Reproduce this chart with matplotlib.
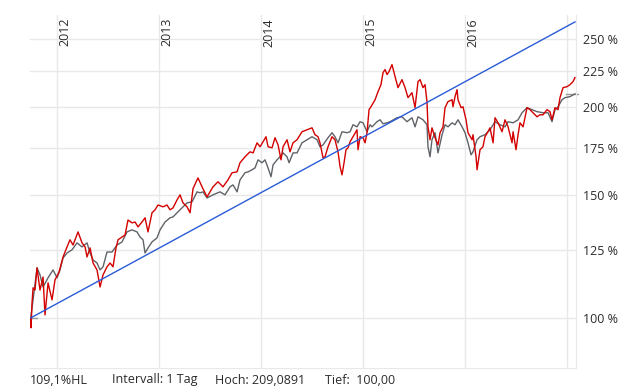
import matplotlib
matplotlib.use("Agg")
import matplotlib.pyplot as plt
import matplotlib.transforms as mtransforms
import numpy as np

# ---------------- data ----------------
red_t = [2011.742, 2011.745, 2011.755, 2011.765, 2011.784, 2011.804, 2011.833, 2011.863, 2011.882, 2011.912,
         2011.951, 2011.980, 2012.020, 2012.059, 2012.098, 2012.127, 2012.157, 2012.206, 2012.245, 2012.275,
         2012.294, 2012.324, 2012.353, 2012.392, 2012.422, 2012.451, 2012.490, 2012.520, 2012.549, 2012.578,
         2012.598, 2012.637, 2012.667, 2012.696, 2012.735, 2012.765, 2012.794, 2012.833, 2012.863, 2012.892,
         2012.931, 2012.961, 2012.990, 2013.039, 2013.078, 2013.108, 2013.137, 2013.176, 2013.206, 2013.235,
         2013.275, 2013.304, 2013.333, 2013.382, 2013.422, 2013.471, 2013.529, 2013.578, 2013.627, 2013.676,
         2013.716, 2013.765, 2013.794, 2013.843, 2013.892, 2013.922, 2013.961, 2013.990, 2014.020, 2014.049,
         2014.069, 2014.108, 2014.137, 2014.167, 2014.196, 2014.216, 2014.255, 2014.284, 2014.314, 2014.353,
         2014.402, 2014.451, 2014.500, 2014.529, 2014.559, 2014.578, 2014.608, 2014.627, 2014.657, 2014.696,
         2014.725, 2014.755, 2014.775, 2014.794, 2014.814, 2014.833, 2014.853, 2014.873, 2014.902, 2014.941,
         2014.951, 2014.971, 2015.000, 2015.020, 2015.039, 2015.059, 2015.078, 2015.118, 2015.147, 2015.176,
         2015.196, 2015.216, 2015.235, 2015.255, 2015.284, 2015.314, 2015.343, 2015.382, 2015.412, 2015.441,
         2015.480, 2015.510, 2015.539, 2015.559, 2015.588, 2015.608, 2015.627, 2015.637, 2015.657, 2015.676,
         2015.706, 2015.735, 2015.755, 2015.784, 2015.804, 2015.833, 2015.873, 2015.882, 2015.902, 2015.922,
         2015.931, 2015.961, 2015.980, 2016.010, 2016.029, 2016.069, 2016.078, 2016.108, 2016.118, 2016.147,
         2016.176, 2016.196, 2016.225, 2016.245, 2016.275, 2016.294, 2016.324, 2016.363, 2016.392, 2016.422,
         2016.461, 2016.471, 2016.500, 2016.520, 2016.539, 2016.569, 2016.608, 2016.637, 2016.667, 2016.706,
         2016.735, 2016.765, 2016.804, 2016.833, 2016.853, 2016.882, 2016.912, 2016.931, 2016.961, 2017.000,
         2017.029, 2017.049, 2017.059, 2017.078]
red_v = [100.0, 96.8, 105.1, 110.4, 109.6, 117.9, 109.6, 114.4, 101.0, 112.2,
         106.1, 113.3, 116.3, 122.2, 126.3, 129.3, 127.1, 132.7, 128.0, 126.3,
         122.2, 125.9, 119.8, 117.1, 110.7, 115.2, 118.3, 119.8, 118.3, 125.9,
         129.3, 130.5, 131.4, 138.0, 136.7, 137.1, 134.9, 137.1, 139.0, 132.7,
         141.3, 142.7, 145.0, 144.1, 145.0, 142.7, 143.6, 147.4, 149.9, 146.0,
         144.1, 141.3, 153.0, 158.5, 153.9, 148.9, 153.9, 156.5, 153.9, 157.5,
         161.2, 161.7, 166.6, 169.9, 172.7, 172.1, 177.9, 175.6, 178.5, 181.5,
         175.6, 175.0, 180.9, 176.7, 168.2, 175.6, 179.7, 172.7, 177.9, 179.7,
         184.5, 185.7, 186.9, 182.7, 181.5, 177.9, 169.3, 169.9, 175.6, 181.5,
         179.7, 172.7, 164.4, 160.1, 166.6, 173.9, 175.0, 178.5, 181.5, 185.7,
         173.9, 181.5, 180.9, 177.9, 183.9, 198.4, 200.3, 205.0, 210.5, 215.4,
         224.1, 226.4, 222.7, 224.9, 230.1, 221.2, 213.3, 219.0, 213.3, 206.4,
         209.8, 199.7, 217.6, 219.0, 213.3, 215.4, 203.7, 187.5, 179.7, 186.9,
         180.9, 176.7, 183.9, 187.5, 199.7, 203.7, 205.0, 200.3, 207.1, 211.9,
         205.0, 199.7, 200.3, 191.9, 183.9, 179.7, 182.7, 169.9, 162.8, 173.9,
         175.6, 181.5, 184.5, 186.9, 177.9, 193.2, 190.0, 184.5, 191.9, 187.5,
         177.9, 184.5, 173.9, 182.7, 190.0, 187.5, 199.7, 198.4, 196.4, 193.8,
         195.1, 195.1, 198.4, 197.1, 191.9, 199.7, 198.4, 206.4, 213.3, 214.0,
         215.4, 216.9, 217.6, 220.5]

grey_t = [2011.742, 2011.765, 2011.804, 2011.833, 2011.863, 2011.912, 2011.961, 2012.000, 2012.029, 2012.059,
          2012.098, 2012.147, 2012.196, 2012.245, 2012.294, 2012.324, 2012.353, 2012.392, 2012.422, 2012.451,
          2012.490, 2012.539, 2012.588, 2012.637, 2012.686, 2012.735, 2012.784, 2012.814, 2012.843, 2012.863,
          2012.892, 2012.931, 2012.980, 2013.010, 2013.059, 2013.108, 2013.137, 2013.176, 2013.225, 2013.275,
          2013.324, 2013.373, 2013.402, 2013.431, 2013.471, 2013.529, 2013.598, 2013.647, 2013.696, 2013.725,
          2013.765, 2013.794, 2013.843, 2013.873, 2013.912, 2013.941, 2013.971, 2014.010, 2014.039, 2014.069,
          2014.098, 2014.118, 2014.157, 2014.186, 2014.216, 2014.255, 2014.275, 2014.314, 2014.353, 2014.402,
          2014.451, 2014.500, 2014.549, 2014.578, 2014.608, 2014.657, 2014.696, 2014.725, 2014.755, 2014.794,
          2014.843, 2014.873, 2014.902, 2014.941, 2014.971, 2015.000, 2015.039, 2015.069, 2015.088, 2015.137,
          2015.167, 2015.196, 2015.235, 2015.265, 2015.333, 2015.382, 2015.431, 2015.480, 2015.510, 2015.539,
          2015.588, 2015.627, 2015.637, 2015.657, 2015.676, 2015.706, 2015.735, 2015.775, 2015.804, 2015.833,
          2015.873, 2015.902, 2015.931, 2015.971, 2016.000, 2016.029, 2016.059, 2016.078, 2016.118, 2016.147,
          2016.196, 2016.245, 2016.294, 2016.343, 2016.392, 2016.422, 2016.471, 2016.520, 2016.559, 2016.608,
          2016.657, 2016.706, 2016.765, 2016.814, 2016.853, 2016.882, 2016.912, 2016.951, 2016.980, 2017.029,
          2017.078]
grey_v = [100.0, 106.1, 117.9, 115.2, 110.7, 114.1, 117.1, 114.1, 117.1, 121.8,
          123.8, 125.1, 128.0, 126.3, 128.0, 123.8, 121.0, 119.8, 117.1, 118.3,
          124.2, 124.2, 127.1, 128.4, 132.7, 133.6, 132.7, 130.5, 129.3, 123.8,
          125.9, 128.4, 130.1, 133.6, 137.1, 139.0, 139.4, 141.3, 143.6, 146.0,
          146.5, 151.4, 150.9, 151.4, 148.4, 149.9, 151.4, 149.9, 153.9, 154.9,
          151.4, 157.5, 161.2, 161.7, 162.8, 163.8, 168.2, 166.6, 168.2, 163.8,
          159.1, 165.5, 168.2, 169.9, 172.1, 169.9, 166.6, 172.1, 172.1, 177.9,
          179.7, 181.5, 179.7, 175.6, 176.7, 180.9, 183.9, 181.5, 177.9, 184.5,
          183.9, 184.5, 188.8, 187.5, 190.7, 190.0, 184.5, 188.8, 187.5, 190.7,
          191.9, 189.4, 190.0, 190.7, 193.2, 193.8, 190.7, 193.2, 187.5, 193.8,
          191.9, 188.8, 175.6, 169.9, 179.7, 183.9, 172.1, 182.7, 188.8, 187.5,
          190.0, 188.8, 191.9, 187.5, 183.9, 177.9, 171.0, 172.7, 179.7, 181.5,
          182.7, 185.7, 190.7, 188.8, 187.5, 190.7, 190.0, 191.9, 196.4, 199.7,
          198.4, 197.1, 196.4, 196.4, 190.7, 198.4, 200.3, 205.0, 206.4, 207.1,
          209.0]

trend_t = [2011.742, 2017.078]
trend_v = [100.0, 264.8]

year_ticks = [2012, 2013, 2014, 2015, 2016, 2017]
year_labels = ["2012", "2013", "2014", "2015", "2016"]
pct_ticks = [100, 125, 150, 175, 200, 225, 250]
pct_labels = ["100 %", "125 %", "150 %", "175 %", "200 %", "225 %", "250 %"]

hoch = 209.0891
tief = 100.00
footer = ["109,1%HL", "Intervall: 1 Tag", "Hoch: 209,0891", "Tief:  100,00"]

# ---------------- figure ----------------
plt.rcParams['font.family'] = ['Open Sans', 'DejaVu Sans']
W, H = 633, 392
fig = plt.figure(figsize=(W / 100, H / 100), dpi=100)
ax = fig.add_axes([30 / W, (H - 368) / H, (576 - 30) / W, (368 - 15) / H])

grid_c = "#e8e8e8"
text_c = "#2b2b2b"
fs = 9

ax.set_yscale("log")
ax.set_xlim(2011.735, 2017.088)
ax.set_ylim(84.8, 270.9)

for yr in year_ticks:
    ax.axvline(yr, color=grid_c, lw=1, zorder=0)
for p in pct_ticks:
    ax.axhline(p, color=grid_c, lw=1, zorder=0)

ax.plot(grey_t, grey_v, color="#5f6368", lw=1.0, zorder=2)
ax.plot(red_t, red_v, color="#d40000", lw=1.0, zorder=3)
ax.plot(trend_t, trend_v, color="#2a5bd7", lw=1.0, zorder=4)

# high / low markers
ax.plot([2016.99, 2017.11], [hoch, hoch], color="#999999", lw=1, clip_on=False, zorder=1)
ax.plot([2011.742, 2011.80], [tief, tief], color="#999999", lw=1, clip_on=False, zorder=1)

for s in ["left", "top"]:
    ax.spines[s].set_visible(False)
ax.spines["bottom"].set_color(grid_c)
ax.spines["right"].set_color(grid_c)

ax.set_xticks([])
ax.yaxis.set_minor_locator(matplotlib.ticker.NullLocator())
ax.set_yticks(pct_ticks)
ax.set_yticklabels(pct_labels)
ax.yaxis.tick_right()
ax.tick_params(axis="y", length=0, pad=5, labelsize=fs, labelcolor=text_c)

# year labels at top, rotated
trans = mtransforms.blended_transform_factory(ax.transData, ax.transAxes)
for yr, lab in zip(year_ticks, year_labels):
    t = mtransforms.offset_copy(trans, fig=fig, x=1.5, y=-3, units="dots")
    ax.text(yr, 1.0, lab, transform=t, rotation=90, ha="left", va="top",
            fontsize=fs, color=text_c)

# footer
xs = [30, 112, 215, 325]
for x, s in zip(xs, footer):
    fig.text(x / W, (H - 380) / H, s, ha="left", va="center", fontsize=fs, color=text_c)

fig.savefig("out.png", dpi=100, facecolor="white")
